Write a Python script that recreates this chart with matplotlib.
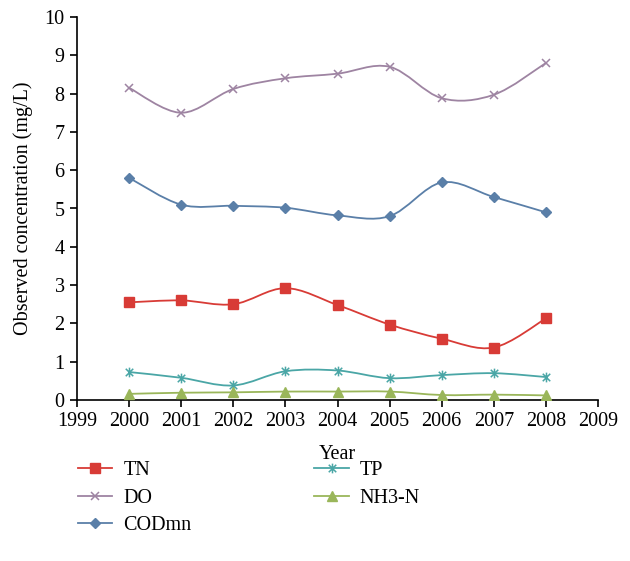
import numpy as np
import matplotlib
matplotlib.use("Agg")
import matplotlib.pyplot as plt
from matplotlib.path import Path
from matplotlib.patches import PathPatch
from matplotlib.lines import Line2D

plt.rcParams['font.family'] = ['Liberation Serif', 'DejaVu Serif']

years = [2000, 2001, 2002, 2003, 2004, 2005, 2006, 2007, 2008]
tn = [2.55, 2.60, 2.50, 2.92, 2.48, 1.97, 1.60, 1.37, 2.13]
do = [8.15, 7.50, 8.12, 8.40, 8.52, 8.70, 7.88, 7.97, 8.80]
codmn = [5.80, 5.10, 5.07, 5.02, 4.82, 4.80, 5.68, 5.30, 4.90]
tp = [0.73, 0.58, 0.38, 0.75, 0.77, 0.57, 0.65, 0.70, 0.60]
nh3n = [0.16, 0.19, 0.20, 0.22, 0.22, 0.22, 0.13, 0.14, 0.12]

series = [
    ("TN", tn, "#d83b36", "s", 7),
    ("DO", do, "#9e84a2", "x", 6),
    ("CODmn", codmn, "#5a7fa8", "D", 5),
    ("TP", tp, "#4aa6a6", "star", 7),
    ("NH3-N", nh3n, "#9ab65a", "^", 7),
]

# asterisk marker: x with vertical stroke
star_verts = [(-1, -1), (1, 1), (-1, 1), (1, -1), (0, -1.3), (0, 1.3)]
star_codes = [Path.MOVETO, Path.LINETO, Path.MOVETO, Path.LINETO, Path.MOVETO, Path.LINETO]
star_marker = Path(star_verts, star_codes)

fig = plt.figure(figsize=(6.30, 5.61), dpi=100)
ax = fig.add_axes([77/630, 1 - 400/561, (598-77)/630, (400-17)/561])


def smooth_path(x, y):
    x = np.asarray(x, float)
    y = np.asarray(y, float)
    n = len(x)
    verts = [(x[0], y[0])]
    codes = [Path.MOVETO]
    for i in range(n - 1):
        p0 = np.array([x[max(i-1, 0)], y[max(i-1, 0)]])
        p1 = np.array([x[i], y[i]])
        p2 = np.array([x[i+1], y[i+1]])
        p3 = np.array([x[min(i+2, n-1)], y[min(i+2, n-1)]])
        c1 = p1 + (p2 - p0) / 6.0
        c2 = p2 - (p3 - p1) / 6.0
        verts += [tuple(c1), tuple(c2), tuple(p2)]
        codes += [Path.CURVE4, Path.CURVE4, Path.CURVE4]
    return Path(verts, codes)


handles = []
for name, vals, color, mk, ms in series:
    patch = PathPatch(smooth_path(years, vals), facecolor='none', edgecolor=color, lw=1.3, zorder=2)
    ax.add_patch(patch)
    if mk == "star":
        ax.plot(years, vals, linestyle='none', marker=star_marker, ms=ms, mec=color, mew=1.1, zorder=3)
        h = Line2D([], [], color=color, lw=1.3, marker=star_marker, ms=ms, mec=color, mew=1.1)
    elif mk == "x":
        ax.plot(years, vals, linestyle='none', marker='x', ms=ms, mec=color, mew=1.1, zorder=3)
        h = Line2D([], [], color=color, lw=1.3, marker='x', ms=ms, mec=color, mew=1.1)
    else:
        ax.plot(years, vals, linestyle='none', marker=mk, ms=ms, mfc=color, mec=color, zorder=3)
        h = Line2D([], [], color=color, lw=1.3, marker=mk, ms=ms, mfc=color, mec=color)
    handles.append((h, name))

ax.set_xlim(1999, 2009)
ax.set_ylim(0, 10)
ax.set_xticks(range(1999, 2010))
ax.set_yticks(range(0, 11))
for s in ['top', 'right']:
    ax.spines[s].set_visible(False)
for s in ['left', 'bottom']:
    ax.spines[s].set_linewidth(1.2)
ax.tick_params(axis='both', direction='out', length=5, width=1.2, labelsize=14.5, pad=4)
ax.set_xlabel("Year", fontsize=14.5, labelpad=10)
ax.set_ylabel("Observed concentration (mg/L)", fontsize=14.5, labelpad=8)

leg = fig.legend([h for h, _ in handles], [n for _, n in handles],
                 ncol=2, loc='upper left', bbox_to_anchor=(60/630, 1 - 443/561),
                 frameon=False, fontsize=14.5, handlelength=1.7, columnspacing=6.1,
                 labelspacing=0.42, handletextpad=0.55)

fig.savefig("out.png", dpi=100)
